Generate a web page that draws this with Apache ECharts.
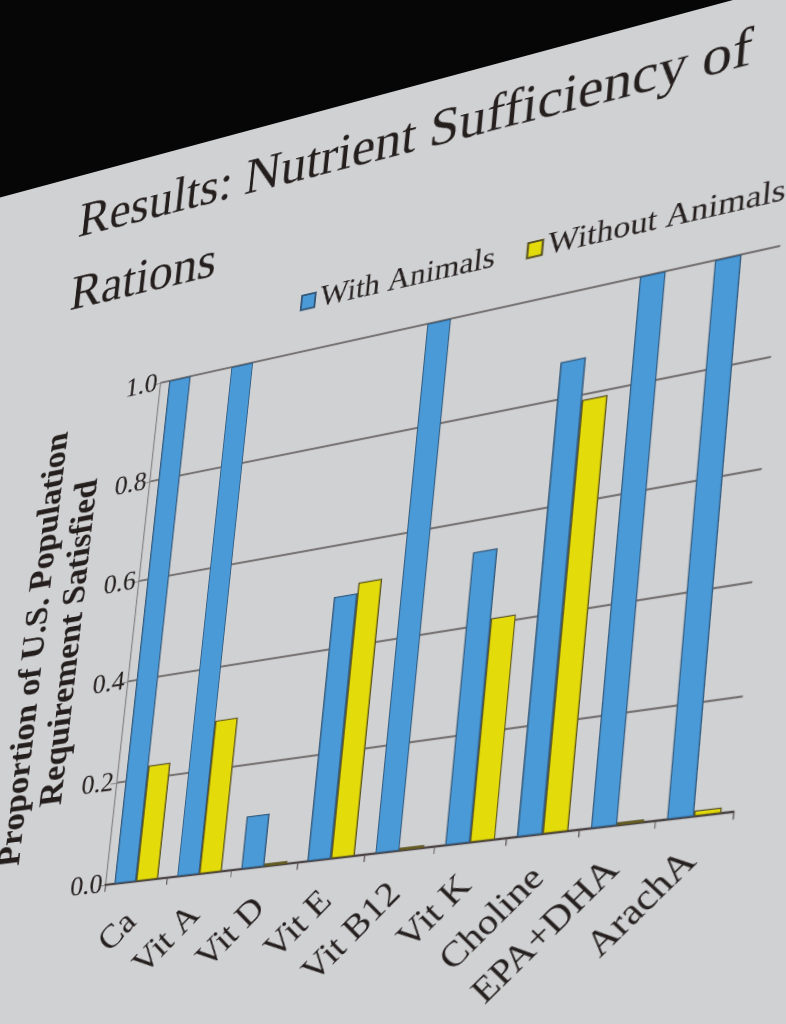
<!DOCTYPE html>
<html>
<head>
<meta charset="utf-8">
<script src="https://cdn.jsdelivr.net/npm/echarts@6/dist/echarts.min.js"></script>
<style>
  html, body { margin: 0; padding: 0; width: 786px; height: 1024px; overflow: hidden; background: #d0d1d3; }
  #room { position: absolute; left: 0; top: 0; width: 786px; height: 260px; background: #060606; }
  #chart { position: absolute; left: 0; top: 0; width: 895px; height: 1000px; transform-origin: 0 0; }
</style>
</head>
<body>
<div id="room"></div>
<div id="chart"></div>
<script>
// ---- data ----
const categories = ['Ca', 'Vit A', 'Vit D', 'Vit E', 'Vit B12', 'Vit K', 'Choline', 'EPA+DHA', 'ArachA'];
const withAnimals = [1.0, 1.0, 0.10, 0.50, 1.0, 0.54, 0.87, 1.0, 1.0];
const withoutAnimals = [0.225, 0.295, 0.005, 0.52, 0.005, 0.41, 0.79, 0.005, 0.01];
const yMin = 0, yMax = 1.0, yStep = 0.2;
const seriesNames = ['With Animals', 'Without Animals'];
const titleText = 'Results: Nutrient Sufficiency of\nRations';
const yName = 'Proportion of U.S. Population\nRequirement Satisfied';

// ---- layout (flat slide) ----
const GL = 260, GT = 252, GW = 600, GH = 520;
// where the plot corners appear in the photo: (u0,v0), (u1,v0), (u1,v1), (u0,v1)
const quad = [[105, 885], [733, 812], [780, 246], [160, 383]];

function squareToQuad(q) {
  const [x0, y0] = q[0], [x1, y1] = q[1], [x2, y2] = q[2], [x3, y3] = q[3];
  const dx1 = x1 - x2, dx2 = x3 - x2, dx3 = x0 - x1 + x2 - x3;
  const dy1 = y1 - y2, dy2 = y3 - y2, dy3 = y0 - y1 + y2 - y3;
  const den = dx1 * dy2 - dx2 * dy1;
  const g = (dx3 * dy2 - dx2 * dy3) / den, h = (dx1 * dy3 - dx3 * dy1) / den;
  return [[x1 - x0 + g * x1, x3 - x0 + h * x3, x0],
          [y1 - y0 + g * y1, y3 - y0 + h * y3, y0],
          [g, h, 1]];
}
function mul(A, B) {
  const R = [[0,0,0],[0,0,0],[0,0,0]];
  for (let i = 0; i < 3; i++) for (let j = 0; j < 3; j++) for (let k = 0; k < 3; k++) R[i][j] += A[i][k] * B[k][j];
  return R;
}
const S = [[1 / GW, 0, -GL / GW], [0, -1 / GH, (GT + GH) / GH], [0, 0, 1]];
const M = mul(squareToQuad(quad), S);
document.getElementById('chart').style.transform =
  `matrix3d(${M[0][0]},${M[1][0]},0,${M[2][0]},${M[0][1]},${M[1][1]},0,${M[2][1]},0,0,1,0,${M[0][2]},${M[1][2]},0,${M[2][2]})`;

const serif = 'Liberation Serif';
const ink = '#241e1d';
const chart = echarts.init(document.getElementById('chart'), null, { renderer: 'canvas', devicePixelRatio: 1.5 });
chart.setOption({
  animation: false,
  backgroundColor: '#d0d1d3',
  title: {
    text: titleText, left: 141, top: 10,
    textStyle: { fontFamily: serif, fontSize: 53, fontWeight: 'normal', color: ink, lineHeight: 80 }
  },
  legend: {
    left: 399, top: 180, itemWidth: 14, itemHeight: 15, itemGap: 30,
    textStyle: { fontFamily: serif, fontSize: 31, color: ink },
    data: seriesNames.map(n => ({ name: n, icon: 'rect' }))
  },
  grid: { left: GL, top: GT, width: GW, height: GH },
  xAxis: {
    type: 'category', data: categories,
    axisLine: { lineStyle: { color: '#3d3534', width: 2 } },
    axisTick: { show: true, length: 7, lineStyle: { color: '#5a5050' } },
    axisLabel: { rotate: 45, margin: 36, fontFamily: serif, fontSize: 35, color: ink, interval: 0 }
  },
  yAxis: {
    type: 'value', min: yMin, max: yMax, interval: yStep,
    name: yName, nameLocation: 'middle', nameGap: 32,
    nameTextStyle: { fontFamily: serif, fontWeight: 'bold', fontSize: 36, lineHeight: 40, color: ink },
    axisLine: { show: true, lineStyle: { color: '#8a8686', width: 1.2 } },
    axisTick: { show: true, length: 6, lineStyle: { color: '#8a8686' } },
    axisLabel: { formatter: v => v.toFixed(1), margin: 3, fontFamily: serif, fontSize: 28, color: ink },
    splitLine: { lineStyle: { color: '#656060', width: 1.7 } }
  },
  series: [
    { name: seriesNames[0], type: 'bar', data: withAnimals, barGap: '0%', barCategoryGap: '30%',
      itemStyle: { color: '#4a9ad8', borderColor: '#35597a', borderWidth: 1.2 } },
    { name: seriesNames[1], type: 'bar', data: withoutAnimals, barGap: '0%', barCategoryGap: '30%',
      itemStyle: { color: '#e4dc0a', borderColor: '#5a5220', borderWidth: 1.2 } }
  ]
});
</script>
</body>
</html>
